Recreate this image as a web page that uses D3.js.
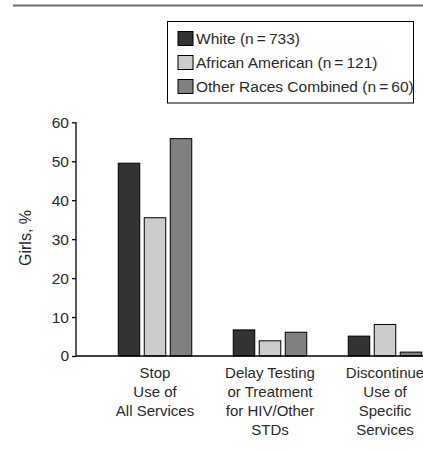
<!DOCTYPE html>
<html>
<head>
<meta charset="utf-8">
<style>
  body { margin: 0; background: #fff; }
  svg text { font-family: "Liberation Sans", Arial, Helvetica, sans-serif; fill: #2a2a2a; }
</style>
</head>
<body>
<svg width="423" height="452"></svg>
<script src="https://d3js.org/d3.v7.min.js"></script>
<script>
// chart data
let categories = ["Stop Use of All Services", "Delay Testing or Treatment for HIV/Other STDs", "Discontinue Use of Specific Services"]
let categoryLines = [["Stop", "Use of", "All Services"], ["Delay Testing", "or Treatment", "for HIV/Other", "STDs"], ["Discontinue", "Use of", "Specific", "Services"]]
let seriesNames = ["White (n\u2009=\u2009733)", "African American (n\u2009=\u2009121)", "Other Races Combined (n\u2009=\u200960)"]
let white = [49.5, 6.7, 5.1]
let africanAmerican = [35.5, 3.9, 8.1]
let otherRaces = [55.8, 6.1, 1.0]
let yTicks = [0, 10, 20, 30, 40, 50, 60]

let seriesValues = [white, africanAmerican, otherRaces]
let colors = ["#333333", "#cccccc", "#808080"]

let svg = d3.select("svg")

// top rule
svg.append("line")
    .attr("x1", 13).attr("x2", 423)
    .attr("y1", 5.5).attr("y2", 5.5)
    .style("stroke", "#6e6e6e")
    .style("stroke-width", 2)

let x0 = d3.scaleBand()
    .domain(categories)
    .range([97.5, 442.5])

let x1 = d3.scaleBand()
    .domain(seriesNames)
    .range([0, x0.bandwidth()])
    .paddingInner(0.173)
    .paddingOuter(0.798)

let y = d3.scaleLinear()
    .domain([0, 60])
    .range([356, 122.3])

// bars
categories.forEach(function (c, ci) {
    svg.append("g")
        .selectAll("rect")
        .data(seriesNames)
        .join("rect")
        .attr("x", d => x0(c) + x1(d))
        .attr("y", (d, si) => y(seriesValues[si][ci]))
        .attr("width", x1.bandwidth())
        .attr("height", (d, si) => y(0) - y(seriesValues[si][ci]))
        .style("fill", (d, si) => colors[si])
        .style("stroke", "#000")
        .style("stroke-width", 1)
})

// y axis
let yAxis = svg.append("g")
    .attr("transform", "translate(76,0)")
    .call(d3.axisLeft(y).tickValues(yTicks).tickSize(4).tickPadding(3))
yAxis.select(".domain").attr("d", "M0," + y(60) + "V" + y(0)).style("stroke", "#000").style("stroke-width", 1.3)
yAxis.selectAll(".tick line").style("stroke", "#000").style("stroke-width", 1.3)
yAxis.selectAll(".tick text")
    .style("font-size", "15.5px")
    .style("font-family", "'Liberation Sans', Arial, sans-serif")
    .style("fill", "#2a2a2a")

// x axis line
svg.append("line")
    .attr("x1", 76).attr("x2", 423)
    .attr("y1", y(0)).attr("y2", y(0))
    .style("stroke", "#000")
    .style("stroke-width", 1.3)

// category labels
categories.forEach(function (c, ci) {
    svg.append("text")
        .attr("text-anchor", "middle")
        .style("font-size", "15px")
        .selectAll("tspan")
        .data(categoryLines[ci])
        .join("tspan")
        .attr("x", x0(c) + x0.bandwidth() / 2)
        .attr("y", (d, i) => 378 + i * 19)
        .text(d => d)
})

// y label
svg.append("text")
    .attr("transform", "translate(31,238) rotate(-90)")
    .attr("text-anchor", "middle")
    .style("font-size", "16px")
    .text("Girls, %")

// legend
let legend = svg.append("g")
svg.append("rect")
    .attr("x", 167.5).attr("y", 21.5)
    .attr("width", 246).attr("height", 81.5)
    .style("fill", "none")
    .style("stroke", "#000")
    .style("stroke-width", 1)

legend.selectAll("rect")
    .data(seriesNames)
    .join("rect")
    .attr("x", 178)
    .attr("y", (d, i) => 31.5 + i * 24)
    .attr("width", 15)
    .attr("height", 14)
    .style("fill", (d, i) => colors[i])
    .style("stroke", "#000")
    .style("stroke-width", 1)

legend.selectAll("text")
    .data(seriesNames)
    .join("text")
    .attr("x", 196)
    .attr("y", (d, i) => 44 + i * 24)
    .style("font-size", "15.5px")
    .text(d => d)
</script>
</body>
</html>
